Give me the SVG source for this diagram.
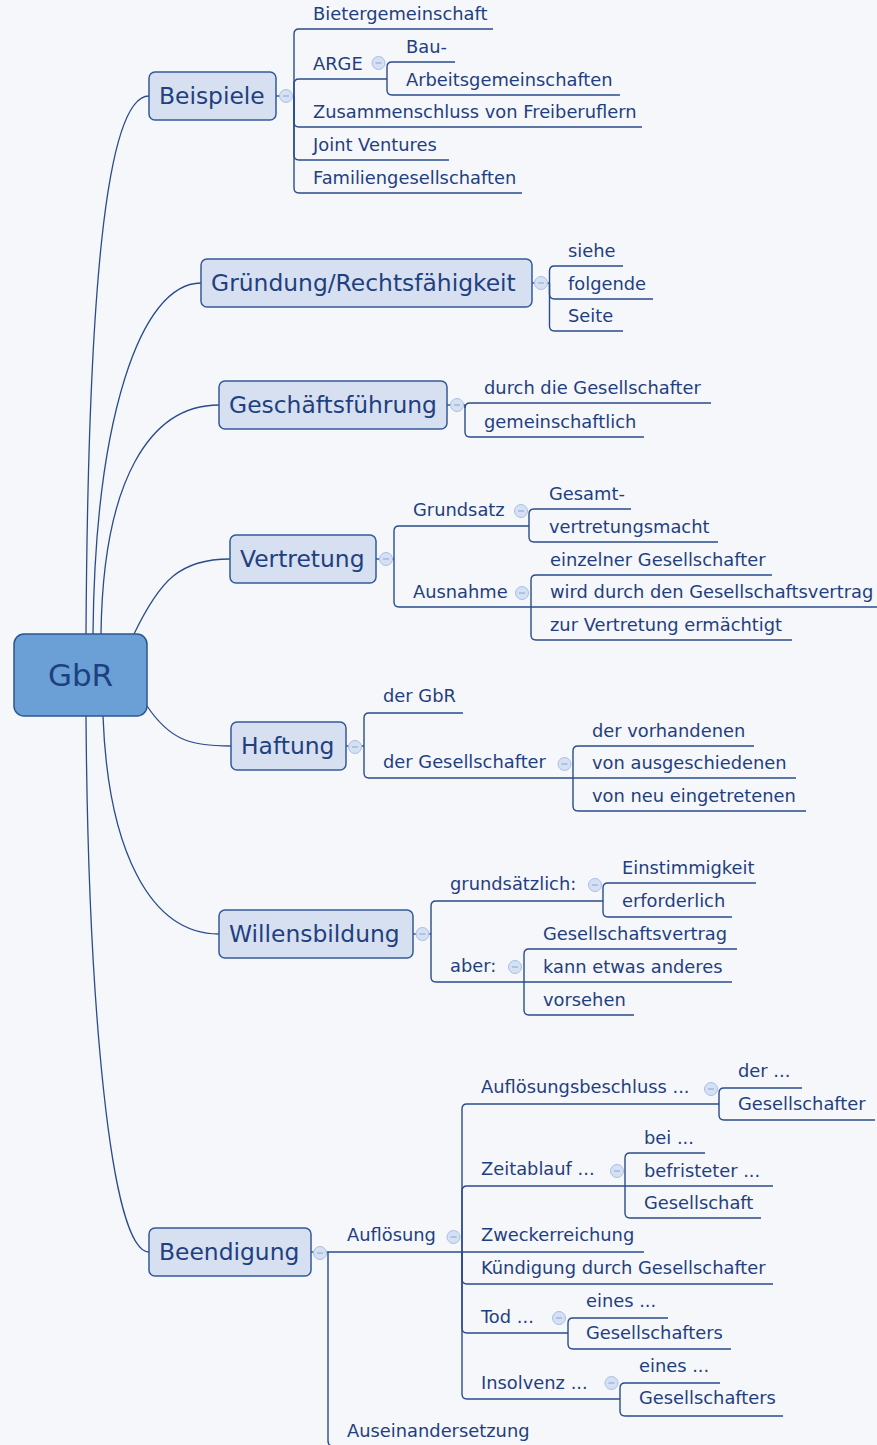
<svg xmlns="http://www.w3.org/2000/svg" width="877" height="1445" viewBox="0 0 877 1445">
<style>
.bg{fill:#f5f7fb}
.root{fill:#6aa0d5;stroke:#2d5590;stroke-width:1.5}
.topic{fill:#d7e0f1;stroke:#34599a;stroke-width:1.5}
.rt{font-family:"DejaVu Sans",Verdana,sans-serif;font-size:31px;fill:#1f4080;text-anchor:middle}
.tt{font-family:"DejaVu Sans",Verdana,sans-serif;font-size:23.4px;fill:#1f4080}
.st{font-family:"DejaVu Sans",Verdana,sans-serif;font-size:17.85px;fill:#1f4080}
.ln{fill:none;stroke:#2a4c8c;stroke-width:1.4}
.cv{fill:none;stroke:#2a4c8c;stroke-width:1.3}
.cc{fill:#d5e0f3;stroke:#a9bfe4;stroke-width:1}
.cm{stroke:#8aa4d0;stroke-width:1}
</style>
<defs>
<g id="col"><circle class="cc" r="6.5"/><line class="cm" x1="-3" y1="0" x2="3" y2="0"/></g>
</defs>
<rect class="bg" x="0" y="0" width="877" height="1445"/>
<g id="connectors">
<path class="cv" d="M86,634 C88,300 105,96 149,96"/>
<path class="cv" d="M93,634 C95,420 140,283 201,283"/>
<path class="cv" d="M101,634 C103,480 150,405 219,405"/>
<path class="cv" d="M134,634 C160,580 180,559 230,559"/>
<path class="cv" d="M147,706 C170,740 190,746 231,746"/>
<path class="cv" d="M103,716 C108,850 150,934 219,934"/>
<path class="cv" d="M86,716 C88,1000 110,1252 149,1252"/>
<!-- Beispiele -->
<path class="ln" d="M276,96 H294"/>
<path class="ln" d="M294,96 V34 Q294,29 299,29 H493"/>
<path class="ln" d="M294,96 V84 Q294,79 299,79 H387"/>
<path class="ln" d="M294,96 V122 Q294,127 299,127 H642"/>
<path class="ln" d="M294,96 V155 Q294,160 299,160 H449"/>
<path class="ln" d="M294,96 V188 Q294,193 299,193 H522"/>
<path class="ln" d="M387,79 V67 Q387,62 392,62 H455"/>
<path class="ln" d="M387,79 V90 Q387,95 392,95 H620"/>
<!-- Gründung -->
<path class="ln" d="M532,283 H549.5"/>
<path class="ln" d="M549.5,283 V271 Q549.5,266 554.5,266 H623"/>
<path class="ln" d="M549.5,283 V294 Q549.5,299 554.5,299 H653"/>
<path class="ln" d="M549.5,283 V326 Q549.5,331 554.5,331 H623"/>
<!-- Geschäftsführung -->
<path class="ln" d="M447,405 H465"/>
<path class="ln" d="M465,408 Q465,403 470,403 H711"/>
<path class="ln" d="M465,405 V432 Q465,437 470,437 H644"/>
<!-- Vertretung -->
<path class="ln" d="M376,559 H394"/>
<path class="ln" d="M394,559 V531 Q394,526 399,526 H529"/>
<path class="ln" d="M394,559 V602 Q394,607 399,607 H531"/>
<path class="ln" d="M529,526 V514 Q529,509 534,509 H631"/>
<path class="ln" d="M529,526 V537 Q529,542 534,542 H718"/>
<path class="ln" d="M531,607 V580 Q531,575 536,575 H772"/>
<path class="ln" d="M531,607 H877"/>
<path class="ln" d="M531,607 V635 Q531,640 536,640 H792"/>
<!-- Haftung -->
<path class="ln" d="M346,746 H364"/>
<path class="ln" d="M364,746 V718 Q364,713 369,713 H463"/>
<path class="ln" d="M364,746 V773 Q364,778 369,778 H573"/>
<path class="ln" d="M573,778 V751 Q573,746 578,746 H754"/>
<path class="ln" d="M573,778 H796"/>
<path class="ln" d="M573,778 V806 Q573,811 578,811 H806"/>
<!-- Willensbildung -->
<path class="ln" d="M413,934 H431"/>
<path class="ln" d="M431,934 V906 Q431,901 436,901 H603"/>
<path class="ln" d="M431,934 V977 Q431,982 436,982 H524"/>
<path class="ln" d="M603,901 V888 Q603,883 608,883 H756"/>
<path class="ln" d="M603,901 V912 Q603,917 608,917 H732"/>
<path class="ln" d="M524,982 V954 Q524,949 529,949 H737"/>
<path class="ln" d="M524,982 H732"/>
<path class="ln" d="M524,982 V1010 Q524,1015 529,1015 H634"/>
<!-- Beendigung -->
<path class="ln" d="M311,1252 H328"/>
<path class="ln" d="M328,1252 H462"/>
<path class="ln" d="M328,1252 V1441 Q328,1446 333,1446 H540"/>
<path class="ln" d="M462,1252 V1109 Q462,1104 467,1104 H719"/>
<path class="ln" d="M462,1252 V1191 Q462,1186 467,1186 H625"/>
<path class="ln" d="M462,1252 H644"/>
<path class="ln" d="M462,1252 V1279 Q462,1284 467,1284 H773"/>
<path class="ln" d="M462,1252 V1328 Q462,1333 467,1333 H568"/>
<path class="ln" d="M462,1252 V1394 Q462,1399 467,1399 H620"/>
<path class="ln" d="M719,1104 V1093 Q719,1088 724,1088 H802"/>
<path class="ln" d="M719,1104 V1115 Q719,1120 724,1120 H875"/>
<path class="ln" d="M625,1186 V1158 Q625,1153 630,1153 H705"/>
<path class="ln" d="M625,1186 H773"/>
<path class="ln" d="M625,1186 V1213 Q625,1218 630,1218 H761"/>
<path class="ln" d="M568,1333 V1323 Q568,1318 573,1318 H668"/>
<path class="ln" d="M568,1333 V1344 Q568,1349 573,1349 H731"/>
<path class="ln" d="M620,1399 V1388 Q620,1383 625,1383 H720"/>
<path class="ln" d="M620,1399 V1411 Q620,1416 625,1416 H783"/>
</g>
<g id="root">
<rect class="root" x="14" y="634" width="133" height="82" rx="10"/>
<text class="rt" x="80.5" y="686">GbR</text>
</g>
<g id="beispiele">
<rect class="topic" x="149" y="72" width="127" height="48" rx="6"/>
<text class="tt" x="159" y="104">Beispiele</text>
<use href="#col" x="286" y="96"/>
<text class="st" x="313" y="20">Bietergemeinschaft</text>
<text class="st" x="313" y="70">ARGE</text>
<use href="#col" x="378.5" y="63"/>
<text class="st" x="406" y="53">Bau-</text>
<text class="st" x="406" y="86">Arbeitsgemeinschaften</text>
<text class="st" x="313" y="118">Zusammenschluss von Freiberuflern</text>
<text class="st" x="313" y="151">Joint Ventures</text>
<text class="st" x="313" y="184">Familiengesellschaften</text>
</g>
<g id="gruendung">
<rect class="topic" x="201" y="259" width="331" height="48" rx="6"/>
<text class="tt" x="211" y="291">Gründung/Rechtsfähigkeit</text>
<use href="#col" x="541" y="283"/>
<text class="st" x="568" y="257">siehe</text>
<text class="st" x="568" y="290">folgende</text>
<text class="st" x="568" y="322">Seite</text>
</g>
<g id="geschaeftsfuehrung">
<rect class="topic" x="219" y="381" width="228" height="48" rx="6"/>
<text class="tt" x="229" y="413">Geschäftsführung</text>
<use href="#col" x="457" y="405"/>
<text class="st" x="484" y="394">durch die Gesellschafter</text>
<text class="st" x="484" y="428">gemeinschaftlich</text>
</g>
<g id="vertretung">
<rect class="topic" x="230" y="535" width="146" height="48" rx="6"/>
<text class="tt" x="240" y="567">Vertretung</text>
<use href="#col" x="386" y="559"/>
<text class="st" x="413" y="516">Grundsatz</text>
<use href="#col" x="521" y="511"/>
<text class="st" x="549" y="500">Gesamt-</text>
<text class="st" x="549" y="533">vertretungsmacht</text>
<text class="st" x="413" y="598">Ausnahme</text>
<use href="#col" x="522" y="593"/>
<text class="st" x="550" y="566">einzelner Gesellschafter</text>
<text class="st" x="550" y="598">wird durch den Gesellschaftsvertrag</text>
<text class="st" x="550" y="631">zur Vertretung ermächtigt</text>
</g>
<g id="haftung">
<rect class="topic" x="231" y="722" width="115" height="48" rx="6"/>
<text class="tt" x="241" y="754">Haftung</text>
<use href="#col" x="355" y="747"/>
<text class="st" x="383" y="702">der GbR</text>
<text class="st" x="383" y="768">der Gesellschafter</text>
<use href="#col" x="564.5" y="764"/>
<text class="st" x="592" y="737">der vorhandenen</text>
<text class="st" x="592" y="769">von ausgeschiedenen</text>
<text class="st" x="592" y="802">von neu eingetretenen</text>
</g>
<g id="willensbildung">
<rect class="topic" x="219" y="910" width="194" height="48" rx="6"/>
<text class="tt" x="229" y="942">Willensbildung</text>
<use href="#col" x="422.5" y="934"/>
<text class="st" x="450" y="890">grundsätzlich:</text>
<use href="#col" x="595" y="885"/>
<text class="st" x="622" y="874">Einstimmigkeit</text>
<text class="st" x="622" y="907">erforderlich</text>
<text class="st" x="450" y="972">aber:</text>
<use href="#col" x="515" y="967"/>
<text class="st" x="543" y="940">Gesellschaftsvertrag</text>
<text class="st" x="543" y="973">kann etwas anderes</text>
<text class="st" x="543" y="1006">vorsehen</text>
</g>
<g id="beendigung">
<rect class="topic" x="149" y="1228" width="162" height="48" rx="6"/>
<text class="tt" x="159" y="1260">Beendigung</text>
<use href="#col" x="320" y="1253"/>
<text class="st" x="347" y="1241">Auflösung</text>
<use href="#col" x="453.5" y="1237"/>
<text class="st" x="347" y="1437">Auseinandersetzung</text>
<text class="st" x="481" y="1093">Auflösungsbeschluss ...</text>
<use href="#col" x="711" y="1089"/>
<text class="st" x="738" y="1077">der ...</text>
<text class="st" x="738" y="1110">Gesellschafter</text>
<text class="st" x="481" y="1175">Zeitablauf ...</text>
<use href="#col" x="617" y="1171"/>
<text class="st" x="644" y="1144">bei ...</text>
<text class="st" x="644" y="1177">befristeter ...</text>
<text class="st" x="644" y="1209">Gesellschaft</text>
<text class="st" x="481" y="1241">Zweckerreichung</text>
<text class="st" x="481" y="1274">Kündigung durch Gesellschafter</text>
<text class="st" x="481" y="1323">Tod ...</text>
<use href="#col" x="559" y="1318"/>
<text class="st" x="586" y="1307">eines ...</text>
<text class="st" x="586" y="1339">Gesellschafters</text>
<text class="st" x="481" y="1389">Insolvenz ...</text>
<use href="#col" x="611.5" y="1383"/>
<text class="st" x="639" y="1372">eines ...</text>
<text class="st" x="639" y="1404">Gesellschafters</text>
</g>
</svg>
